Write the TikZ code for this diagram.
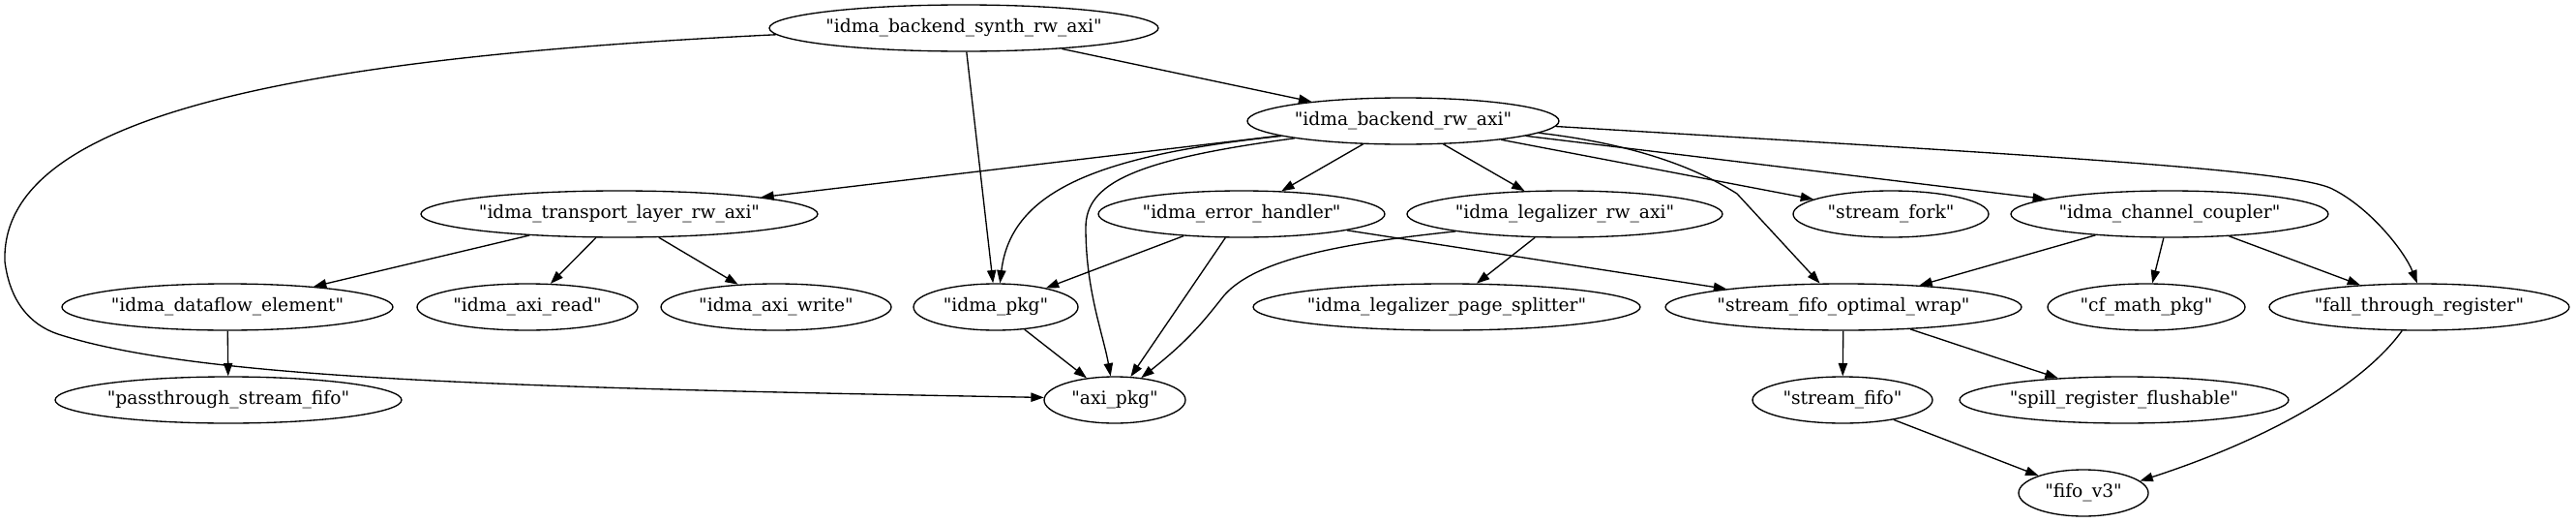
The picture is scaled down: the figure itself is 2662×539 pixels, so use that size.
\documentclass[tikz,border=0pt]{standalone}
\usepackage{fontspec}
\newfontfamily\dvs{DejaVu Serif}
\usetikzlibrary{shapes.geometric,arrows.meta}
\begin{document}
\begin{tikzpicture}[x=0.75pt,y=-0.75pt,
  nd/.style={ellipse, draw, line width=1pt, inner sep=0pt, minimum height=36pt,
             font=\dvs\fontsize{14}{16}\selectfont},
  ew/.style={minimum width=#1*0.75pt},
  ed/.style={draw, line width=1pt, -{Triangle[length=10pt,width=7pt]}}]
\useasboundingbox (0,0) rectangle (2662,539);
% rank 0
\node[nd,ew=402] (S) at (996,29) {\makebox[0pt]{"idma\_backend\_synth\_rw\_axi"}};
% rank 1
\node[nd,ew=322] (R) at (1450,125) {\makebox[0pt]{"idma\_backend\_rw\_axi"}};
% rank 2
\node[nd,ew=410] (T) at (640,221) {\makebox[0pt]{"idma\_transport\_layer\_rw\_axi"}};
\node[nd,ew=296] (E) at (1283,221) {\makebox[0pt]{"idma\_error\_handler"}};
\node[nd,ew=326] (L) at (1617,221) {\makebox[0pt]{"idma\_legalizer\_rw\_axi"}};
\node[nd,ew=202] (F) at (1954,221) {\makebox[0pt]{"stream\_fork"}};
\node[nd,ew=328] (C) at (2242,221) {\makebox[0pt]{"idma\_channel\_coupler"}};
% rank 3
\node[nd,ew=342] (D) at (235,317) {\makebox[0pt]{"idma\_dataflow\_element"}};
\node[nd,ew=228] (AR) at (545,317) {\makebox[0pt]{"idma\_axi\_read"}};
\node[nd,ew=238] (AW) at (802,317) {\makebox[0pt]{"idma\_axi\_write"}};
\node[nd,ew=170] (P) at (1029,317) {\makebox[0pt]{"idma\_pkg"}};
\node[nd,ew=400] (PS) at (1495,317) {\makebox[0pt]{"idma\_legalizer\_page\_splitter"}};
\node[nd,ew=368] (W) at (1905,317) {\makebox[0pt]{"stream\_fifo\_optimal\_wrap"}};
\node[nd,ew=204] (CF) at (2218,317) {\makebox[0pt]{"cf\_math\_pkg"}};
\node[nd,ew=310] (FT) at (2500,317) {\makebox[0pt]{"fall\_through\_register"}};
% rank 4
\node[nd,ew=358] (PT) at (236,413) {\makebox[0pt]{"passthrough\_stream\_fifo"}};
\node[nd,ew=146] (AP) at (1152,413) {\makebox[0pt]{"axi\_pkg"}};
\node[nd,ew=186] (SF) at (1904,413) {\makebox[0pt]{"stream\_fifo"}};
\node[nd,ew=340] (SR) at (2195,413) {\makebox[0pt]{"spill\_register\_flushable"}};
% rank 5
\node[nd,ew=134] (V) at (2153,509) {\makebox[0pt]{"fifo\_v3"}};

% edges from idma_backend_synth_rw_axi
\draw[ed] (S) -- (R);
\draw[ed] (S) -- (P);
\draw[ed] (S.182) .. controls (300,60) and (0,120) .. (5,270)
  .. controls (10,310) and (30,335) .. (60,345)
  .. controls (200,390) and (500,400) .. (AP.178);
% edges from idma_backend_rw_axi
\draw[ed] (R) -- (T);
\draw[ed] (R.187) .. controls (1140,160) and (1045,195) .. (P.80);
\draw[ed] (R.189) .. controls (1170,165) and (1122,190) .. (1122,235)
  .. controls (1122,300) and (1140,345) .. (AP.100);
\draw[ed] (R) -- (E);
\draw[ed] (R) -- (L);
\draw[ed] (R) -- (F);
\draw[ed] (R) -- (C);
\draw[ed] (R.355) .. controls (1700,150) and (1760,178) .. (1795,200) -- (W.135);
\draw[ed] (R.358) .. controls (2100,160) and (2370,175) .. (2410,195)
  .. controls (2450,215) and (2485,260) .. (FT.95);
% transport layer
\draw[ed] (T) -- (D);
\draw[ed] (T) -- (AR);
\draw[ed] (T) -- (AW);
% error handler
\draw[ed] (E) -- (P);
\draw[ed] (E) -- (AP);
\draw[ed] (E) -- (W);
% legalizer
\draw[ed] (L) -- (PS);
\draw[ed] (L.189) .. controls (1400,250) and (1300,265) .. (1265,305)
  .. controls (1245,330) and (1230,350) .. (AP.40);
% channel coupler
\draw[ed] (C) -- (W);
\draw[ed] (C) -- (CF);
\draw[ed] (C) -- (FT);
% lower ranks
\draw[ed] (D) -- (PT);
\draw[ed] (P) -- (AP);
\draw[ed] (W) -- (SF);
\draw[ed] (W) -- (SR);
\draw[ed] (SF) -- (V);
\draw[ed] (FT.234) .. controls (2440,400) and (2340,455) .. (V.12);
\end{tikzpicture}
\end{document}
